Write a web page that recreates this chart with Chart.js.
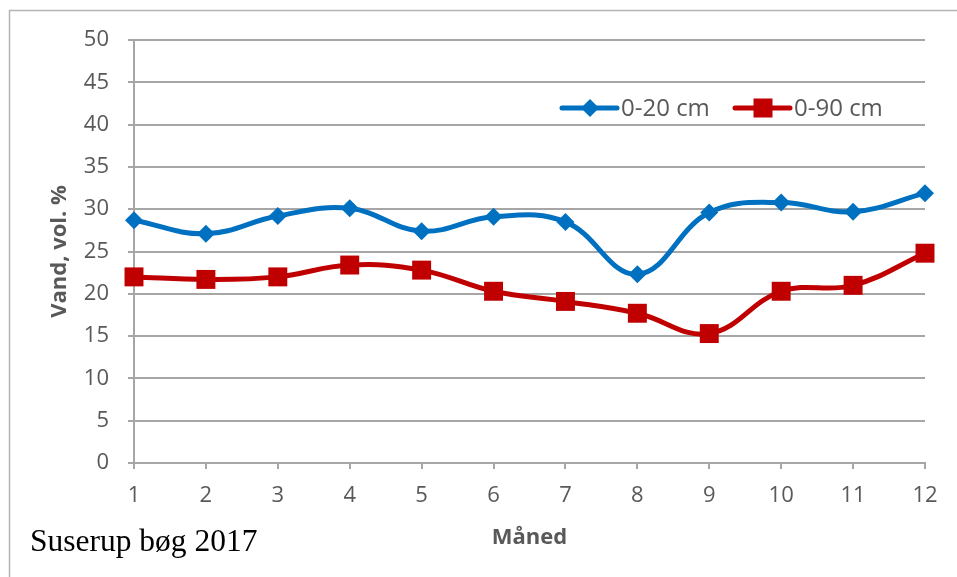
<!DOCTYPE html>
<html>
<head>
<meta charset="utf-8">
<script src="https://cdn.jsdelivr.net/npm/chart.js@4"></script>
<style>
  html, body { margin: 0; padding: 0; background: #fff; }
  #wrap { width: 957px; height: 577px; position: relative; }
</style>
</head>
<body>
<div id="wrap"><canvas id="myChart" width="957" height="577"></canvas></div>
<script>
// data
const maaneder = ["1", "2", "3", "4", "5", "6", "7", "8", "9", "10", "11", "12"];
const vand0_20 = [28.7, 27.1, 29.2, 30.1, 27.4, 29.1, 28.5, 22.3, 29.6, 30.8, 29.7, 31.9];
const vand0_90 = [22.0, 21.7, 22.0, 23.4, 22.8, 20.3, 19.1, 17.7, 15.3, 20.3, 21.0, 24.8];
const yTicks = [0, 5, 10, 15, 20, 25, 30, 35, 40, 45, 50];
const serieNavne = ["0-20 cm", "0-90 cm"];

const BLAA = "#0070C0";
const ROED = "#C00000";
const GRAA = "#595959";
const LINJE = "#a6a6a6";
const FONT = "'Open Sans', sans-serif";

// tegner ramme, legend og tekst nederst til venstre
const ekstra = {
  id: "ekstra",
  afterDraw(chart) {
    const c = chart.ctx;
    c.save();
    // ramme (kun top og venstre side er synlig)
    c.strokeStyle = "#b4b4b4";
    c.lineWidth = 1.5;
    c.beginPath();
    c.moveTo(957, 10.5);
    c.lineTo(9.5, 10.5);
    c.lineTo(9.5, 577);
    c.stroke();

    // legend inde i plottet
    const items = [
      { x: 562, tekst: serieNavne[0], farve: BLAA, form: "diamant" },
      { x: 735, tekst: serieNavne[1], farve: ROED, form: "firkant" }
    ];
    const y = 108;
    items.forEach(function (it) {
      c.strokeStyle = it.farve;
      c.lineWidth = 5;
      c.lineCap = "round";
      c.beginPath();
      c.moveTo(it.x, y);
      c.lineTo(it.x + 55, y);
      c.stroke();
      c.fillStyle = it.farve;
      const mx = it.x + 28;
      if (it.form === "diamant") {
        c.beginPath();
        c.moveTo(mx - 9, y);
        c.lineTo(mx, y - 9);
        c.lineTo(mx + 9, y);
        c.lineTo(mx, y + 9);
        c.closePath();
        c.fill();
      } else {
        c.fillRect(mx - 9.5, y - 9.5, 19, 19);
      }
      c.fillStyle = GRAA;
      c.font = "24px " + FONT;
      c.textBaseline = "middle";
      c.textAlign = "left";
      c.fillText(it.tekst, it.x + 59, y + 1);
    });

    // stednavn
    c.fillStyle = "#000";
    c.font = "31.5px 'Liberation Serif', 'Times New Roman', serif";
    c.textBaseline = "alphabetic";
    c.fillText("Suserup bøg 2017", 30, 551);
    c.restore();
  }
};

const ctx = document.getElementById("myChart").getContext("2d");

const chart = new Chart(ctx, {
  type: "line",
  data: {
    labels: maaneder,
    datasets: [
      {
        label: serieNavne[0],
        data: vand0_20,
        borderColor: BLAA,
        backgroundColor: BLAA,
        borderWidth: 5,
        pointStyle: "rectRot",
        pointRadius: 9,
        pointHoverRadius: 9,
        pointBorderWidth: 0,
        tension: 0.4,
        clip: false
      },
      {
        label: serieNavne[1],
        data: vand0_90,
        borderColor: ROED,
        backgroundColor: ROED,
        borderWidth: 5,
        pointStyle: "rect",
        pointRadius: 13.4,
        pointHoverRadius: 13.4,
        pointBorderWidth: 0,
        tension: 0.4,
        clip: false
      }
    ]
  },
  options: {
    responsive: false,
    animation: false,
    events: [],
    layout: { padding: { left: 43, top: 40, right: 32, bottom: 22 } },
    plugins: {
      legend: { display: false },
      tooltip: { enabled: false }
    },
    scales: {
      x: {
        offset: false,
        border: { color: LINJE, width: 2 },
        grid: { drawOnChartArea: false, drawTicks: true, tickLength: 6, color: LINJE, lineWidth: 2 },
        ticks: { color: GRAA, font: { family: FONT, size: 22 }, padding: 14, maxRotation: 0 },
        title: { display: true, text: "Måned", color: GRAA, font: { family: FONT, size: 22, weight: "bold" }, padding: 4 },
        afterFit(scale) { scale.height = 92; }
      },
      y: {
        min: 0,
        max: 50,
        border: { color: LINJE, width: 2 },
        grid: { color: LINJE, lineWidth: 2, tickLength: 6 },
        afterBuildTicks(scale) { scale.ticks = yTicks.map(v => ({ value: v })); },
        ticks: { color: GRAA, font: { family: FONT, size: 22 }, padding: 19 },
        title: { display: true, text: "Vand, vol. %", color: GRAA, font: { family: FONT, size: 22, weight: "bold" }, padding: 4 },
        afterFit(scale) { scale.width = 91; }
      }
    }
  },
  plugins: [ekstra]
});
</script>
</body>
</html>
